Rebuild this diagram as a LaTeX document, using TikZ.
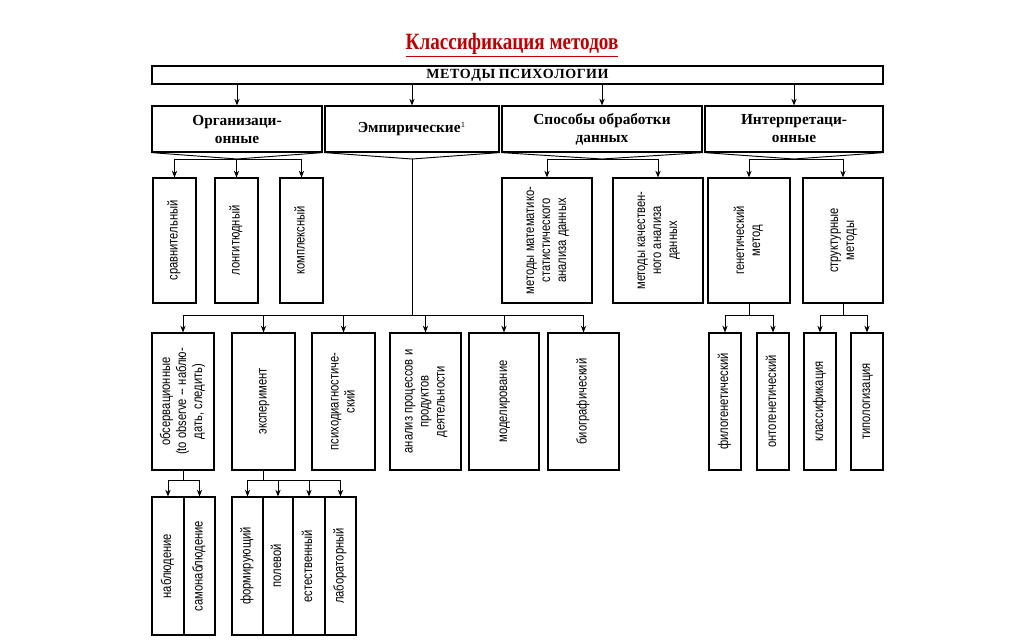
\documentclass[tikz,border=0pt]{standalone}
\usepackage{fontspec}
\usepackage{graphicx}
\setmainfont{Liberation Serif}
\newfontfamily\narrow[FakeStretch=0.8]{Liberation Sans}
\newfontfamily\ttl[FakeStretch=0.82]{Liberation Serif}
\usetikzlibrary{arrows.meta}
\tikzset{
  box/.style={draw, line width=0.9pt, inner sep=0pt, align=center},
  hdr/.style={box, font=\bfseries\fontsize{11.5}{13.5}\selectfont},
  vt/.style={box, font=\narrow\fontsize{10.5}{12}\selectfont},
  ln/.style={line width=0.7pt},
  arr/.style={ln, -{Stealth[length=5pt,width=4pt]}},
}
\newcommand\bx[7]{\pgfmathsetmacro\bw{(#5-#3)*0.75}\pgfmathsetmacro\bh{(#6-#4)*0.75}%
  \node[#2, minimum width=\bw pt, minimum height=\bh pt] (#1) at ({(#3+#5)/2},{(#4+#6)/2}) {#7};}
\newcommand\rt[1]{\rotatebox{90}{\begin{tabular}{@{}c@{}}#1\end{tabular}}}
\begin{document}
\begin{tikzpicture}[x=0.75pt,y=-0.75pt]
\useasboundingbox (0,0) rectangle (1024,639);
\node[text=red!75!black, font=\ttl\bfseries\fontsize{17.5}{20}\selectfont] (title) at (512,45) {\underline{Классификация методов}};
\bx{top}{hdr}{152}{66}{883}{84}{\fontsize{10.5}{12}\selectfont М\kern0.4ptЕ\kern0.4ptТ\kern0.4ptО\kern0.4ptД\kern0.4ptЫ П\kern0.4ptС\kern0.4ptИ\kern0.4ptХ\kern0.4ptО\kern0.4ptЛ\kern0.4ptО\kern0.4ptГ\kern0.4ptИ\kern0.4ptИ}
\bx{org}{hdr}{152}{106}{322}{152}{Организаци-\\онные}
\bx{emp}{hdr}{325}{106}{499}{152}{Эмпирические$^{\scriptscriptstyle 1}$}
\bx{spo}{hdr}{502}{106}{702}{152}{Способы обработки\\данных}
\bx{int}{hdr}{705}{106}{883}{152}{Интерпретаци-\\онные}
\foreach \n in {org,emp,spo,int} \draw[arr] (top.south -| \n.north) -- (\n.north);
% row 3
\bx{srav}{vt}{153}{178}{196}{303}{\rt{сравнительный}}
\bx{long}{vt}{215}{178}{258}{303}{\rt{лонгитюдный}}
\bx{komp}{vt}{280}{178}{323}{303}{\rt{комплексный}}
\bx{mat}{vt}{502}{178}{592}{303}{\rt{методы математико-\\статистического\\анализа данных}}
\bx{kach}{vt}{613}{178}{703}{303}{\rt{методы качествен-\\ного анализа\\данных}}
\bx{gen}{vt}{708}{178}{790}{303}{\rt{генетический\\метод}}
\bx{str}{vt}{803}{178}{883}{303}{\rt{структурные\\методы}}
% row 4
\bx{obs}{vt}{152}{333}{214}{470}{\rt{обсервационные\\(to observe -- наблю-\\дать, следить)}}
\bx{eksp}{vt}{232}{333}{295}{470}{\rt{эксперимент}}
\bx{psi}{vt}{312}{333}{375}{470}{\rt{психодиагностиче-\\ский}}
\bx{anal}{vt}{390}{333}{461}{470}{\rt{анализ процессов и\\продуктов\\деятельности}}
\bx{mod}{vt}{469}{333}{539}{470}{\rt{моделирование}}
\bx{bio}{vt}{548}{333}{619}{470}{\rt{биографический}}
\bx{filo}{vt}{709}{333}{741}{470}{\rt{филогенетический}}
\bx{onto}{vt}{757}{333}{789}{470}{\rt{онтогенетический}}
\bx{klas}{vt}{804}{333}{836}{470}{\rt{классификация}}
\bx{tipo}{vt}{851}{333}{883}{470}{\rt{типологизация}}
% row 5
\bx{nab}{vt}{152}{497}{184}{635}{\rt{наблюдение}}
\bx{sam}{vt}{184}{497}{215}{635}{\rt{самонаблюдение}}
\bx{form}{vt}{232}{497}{263}{635}{\rt{формирующий}}
\bx{pol}{vt}{263}{497}{293}{635}{\rt{полевой}}
\bx{est}{vt}{293}{497}{325}{635}{\rt{естественный}}
\bx{lab}{vt}{325}{497}{356}{635}{\rt{лабораторный}}
% funnels
\coordinate (vorg) at (237,159);
\coordinate (vemp) at (412,159);
\coordinate (vspo) at (602,159);
\coordinate (vint) at (794,159);
\foreach \n in {org,emp,spo,int} \draw[ln] (\n.south west) -- (v\n) -- (\n.south east);
\coordinate (bh) at (0,159);
\draw[ln] (srav.north |- bh) -- (komp.north |- bh);
\foreach \n in {srav,long,komp} \draw[arr] (\n.north |- bh) -- (\n.north);
\draw[ln] (mat.north |- bh) -- (kach.north |- bh);
\foreach \n in {mat,kach} \draw[arr] (\n.north |- bh) -- (\n.north);
\draw[ln] (gen.north |- bh) -- (str.north |- bh);
\foreach \n in {gen,str} \draw[arr] (\n.north |- bh) -- (\n.north);
% emp bus
\coordinate (bemp) at (0,315);
\draw[ln] (vemp) -- (vemp |- bemp);
\draw[ln] (obs.north |- bemp) -- (bio.north |- bemp);
\foreach \n in {obs,eksp,psi,anal,mod,bio} \draw[arr] (\n.north |- bemp) -- (\n.north);
% gen / str
\draw[ln] (gen.south) -- (gen.south |- bemp);
\draw[ln] (filo.north |- bemp) -- (onto.north |- bemp);
\foreach \n in {filo,onto} \draw[arr] (\n.north |- bemp) -- (\n.north);
\draw[ln] (str.south) -- (str.south |- bemp);
\draw[ln] (klas.north |- bemp) -- (tipo.north |- bemp);
\foreach \n in {klas,tipo} \draw[arr] (\n.north |- bemp) -- (\n.north);
% obs / eksp
\coordinate (bl) at (0,480);
\draw[ln] (obs.south) -- (obs.south |- bl);
\draw[ln] (nab.north |- bl) -- (sam.north |- bl);
\foreach \n in {nab,sam} \draw[arr] (\n.north |- bl) -- (\n.north);
\draw[ln] (eksp.south) -- (eksp.south |- bl);
\draw[ln] (form.north |- bl) -- (lab.north |- bl);
\foreach \n in {form,pol,est,lab} \draw[arr] (\n.north |- bl) -- (\n.north);
\end{tikzpicture}
\end{document}
